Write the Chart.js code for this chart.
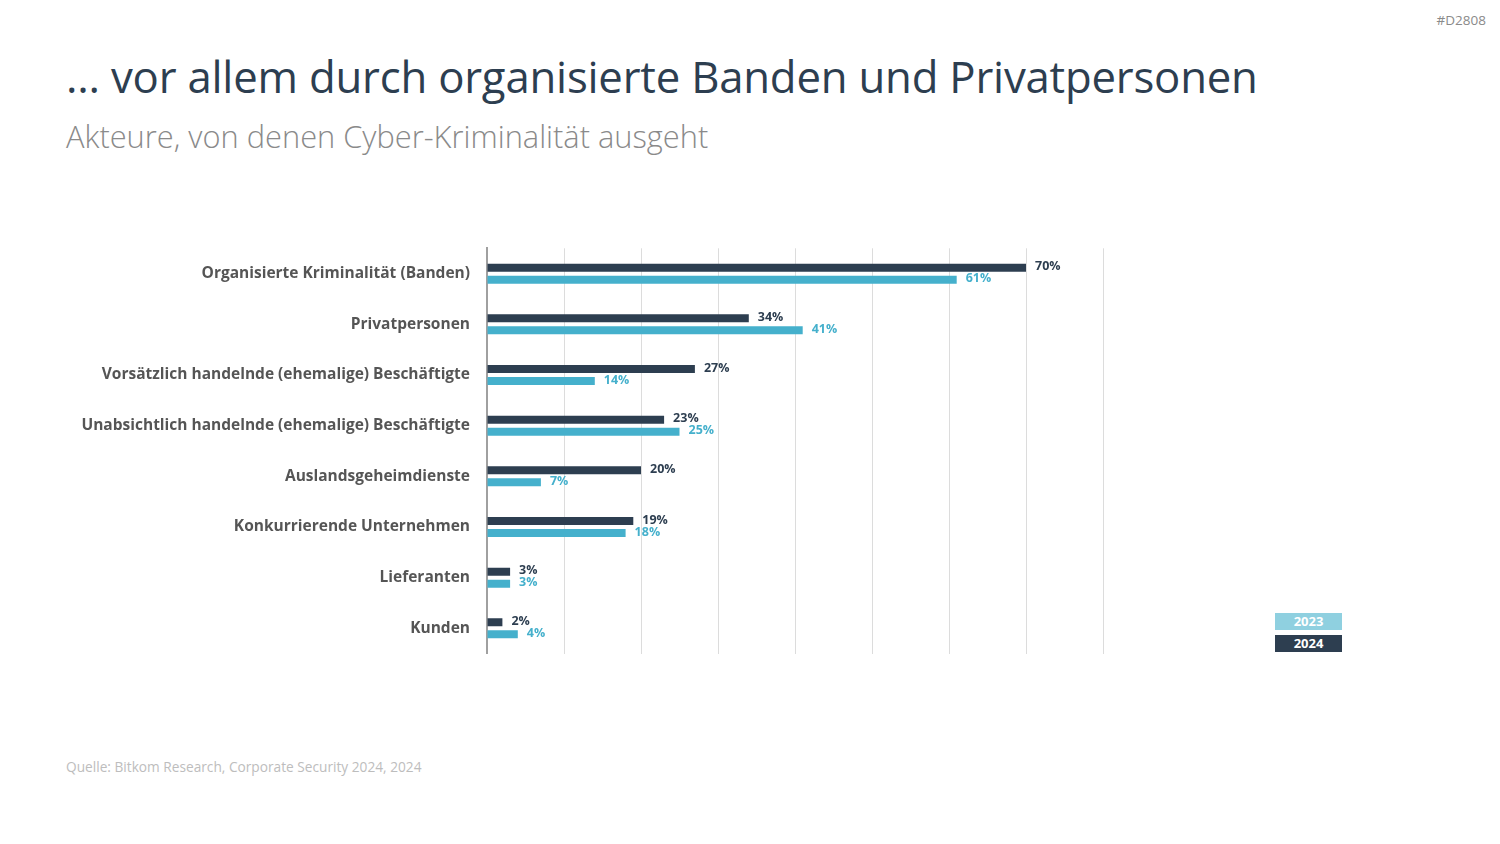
<!DOCTYPE html>
<html>
<head>
<meta charset="utf-8">
<script src="https://cdn.jsdelivr.net/npm/chart.js@4.4.1/dist/chart.umd.min.js"></script>
<style>
  body { margin: 0; background: #fff; font-family: "Open Sans", sans-serif; }
  #page { position: relative; width: 1500px; height: 844px; overflow: hidden; }
  .code { position: absolute; right: 14px; top: 11px; font-size: 13.5px; color: #8a8a8a; }
  h1 { position: absolute; left: 66px; top: 46px; margin: 0; font-weight: 400; font-size: 43.7px; color: #2d3e50; letter-spacing: -0.2px; }
  h2 { position: absolute; left: 66px; top: 115px; margin: 0; font-weight: 300; font-size: 30.8px; color: #8a8a8a; }
  .source { position: absolute; left: 66px; top: 757px; font-size: 13.7px; color: #bdbdbd; }
  #chartBox { position: absolute; left: 60px; top: 222px; width: 1070px; height: 458px; }
  .legend { position: absolute; left: 1275px; width: 67px; height: 17px; color: #fff; font-weight: 700; font-size: 13px; text-align: center; line-height: 17px; }
</style>
</head>
<body>
<div id="page">
  <div class="code">#D2808</div>
  <h1>… vor allem durch organisierte Banden und Privatpersonen</h1>
  <h2>Akteure, von denen Cyber-Kriminalität ausgeht</h2>
  <div id="chartBox"><canvas id="chart"></canvas></div>
  <div class="legend" style="top:613px;background:#8fd0e0;">2023</div>
  <div class="legend" style="top:635px;background:#2d3e50;">2024</div>
  <div class="source">Quelle: Bitkom Research, Corporate Security 2024, 2024</div>
</div>
<script>
// Data
const categories = [
    "Organisierte Kriminalität (Banden)",
    "Privatpersonen",
    "Vorsätzlich handelnde (ehemalige) Beschäftigte",
    "Unabsichtlich handelnde (ehemalige) Beschäftigte",
    "Auslandsgeheimdienste",
    "Konkurrierende Unternehmen",
    "Lieferanten",
    "Kunden"
];
const values2024 = [70, 34, 27, 23, 20, 19, 3, 2];
const values2023 = [61, 41, 14, 25, 7, 18, 3, 4];

const dark = "#2d3e50";
const blue = "#45b0cc";

// Draw the percentage labels right of each bar
const valueLabels = {
    id: "valueLabels",
    afterDatasetsDraw(chart) {
        const ctx = chart.ctx;
        ctx.save();
        ctx.font = "bold 12.5px 'Open Sans', sans-serif";
        ctx.textBaseline = "middle";
        ctx.textAlign = "left";
        chart.data.datasets.forEach((ds, i) => {
            const meta = chart.getDatasetMeta(i);
            ctx.fillStyle = ds.backgroundColor;
            meta.data.forEach((bar, j) => {
                ctx.fillText(ds.data[j] + "%", bar.x + 9, bar.y - 1);
            });
        });
        ctx.restore();
    }
};

const ctx = document.getElementById("chart").getContext("2d");
new Chart(ctx, {
    type: "bar",
    data: {
        labels: categories,
        datasets: [
            { label: "2024", data: values2024, backgroundColor: dark },
            { label: "2023", data: values2023, backgroundColor: blue }
        ]
    },
    options: {
        indexAxis: "y",
        responsive: true,
        maintainAspectRatio: false,
        animation: false,
        categoryPercentage: 0.474,
        barPercentage: 0.667,
        layout: { padding: { top: 10, bottom: 10, right: 27 } },
        plugins: {
            legend: { display: false },
            tooltip: { enabled: false }
        },
        scales: {
            x: {
                min: 0,
                max: 80,
                ticks: { display: false, stepSize: 10 },
                grid: { color: "#dcdcdc", drawTicks: false },
                border: { display: false }
            },
            y: {
                afterFit(scale) { scale.width = 427; },
                ticks: {
                    color: "#555555",
                    padding: 17,
                    font: { family: "'Open Sans', sans-serif", weight: "bold", size: 15.5 }
                },
                grid: { display: false, drawTicks: false },
                border: { color: "#a0a0a0", width: 2 }
            }
        }
    },
    plugins: [valueLabels]
});
</script>
</body>
</html>
